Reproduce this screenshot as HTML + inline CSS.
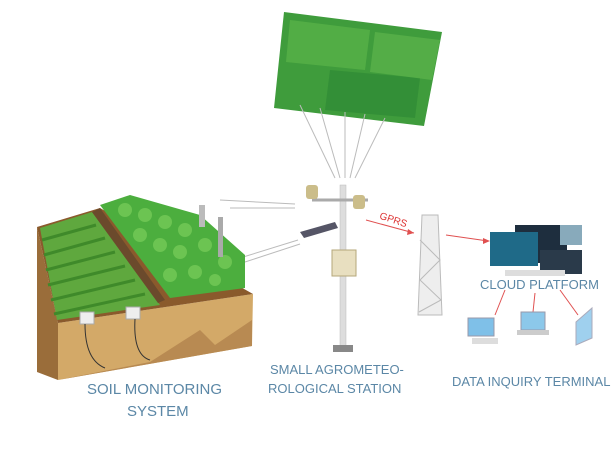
<!DOCTYPE html>
<html><head><style>
body{margin:0;width:614px;height:458px;background:#fff;overflow:hidden;font-family:"Liberation Sans",sans-serif}
.t{position:absolute;color:#5b87a6;font-size:14px;white-space:nowrap;letter-spacing:0}
</style></head><body>
<svg width="614" height="458" style="position:absolute;left:0;top:0">
<polygon points="284,12 442,32 424,126 274,108" fill="#3f9c3c"/>
<polygon points="290,20 370,30 365,70 286,62" fill="#5bb548" opacity=".7"/>
<polygon points="330,70 420,78 415,118 325,110" fill="#2f8a34" opacity=".7"/>
<polygon points="375,32 440,40 432,80 370,72" fill="#63b94e" opacity=".6"/>
<g stroke="#bbb" stroke-width="1">
<line x1="300" y1="105" x2="335" y2="178"/><line x1="320" y1="108" x2="340" y2="178"/>
<line x1="345" y1="112" x2="345" y2="178"/><line x1="365" y1="114" x2="350" y2="178"/>
<line x1="385" y1="118" x2="355" y2="178"/>
<line x1="220" y1="200" x2="295" y2="204"/><line x1="230" y1="208" x2="295" y2="208"/>
<line x1="240" y1="258" x2="298" y2="240"/><line x1="245" y1="262" x2="300" y2="244"/>
</g>
<polygon points="37,227 58,323 58,380 37,372" fill="#9a6d3a"/>
<polygon points="58,323 253,294 252,346 58,380" fill="#d3a968"/>
<path d="M150,362 L200,330 L215,345 L252,320 L252,346 L58,380 Z" fill="#b88a52"/>
<polygon points="37,227 100,208 253,294 58,323" fill="#8a5a2c"/>
<polygon points="40,228 92,212 160,305 57,320" fill="#5fa83e"/>
<g stroke="#3f8a2a" stroke-width="3">
<line x1="42" y1="240" x2="96" y2="225"/><line x1="44" y1="255" x2="105" y2="238"/>
<line x1="46" y1="270" x2="115" y2="252"/><line x1="48" y1="285" x2="125" y2="266"/>
<line x1="51" y1="300" x2="135" y2="280"/><line x1="54" y1="314" x2="145" y2="294"/>
</g>
<polygon points="92,212 100,208 165,300 158,303" fill="#6b4a2c"/>
<polygon points="100,205 130,195 200,215 245,255 245,288 170,298" fill="#4cae3e"/>
<g fill="#6cc452">
<circle cx="125" cy="210" r="7"/><circle cx="145" cy="215" r="7"/><circle cx="165" cy="222" r="7"/><circle cx="185" cy="230" r="7"/>
<circle cx="140" cy="235" r="7"/><circle cx="160" cy="245" r="7"/><circle cx="180" cy="252" r="7"/><circle cx="205" cy="245" r="7"/>
<circle cx="225" cy="262" r="7"/><circle cx="195" cy="272" r="7"/><circle cx="170" cy="275" r="7"/><circle cx="215" cy="280" r="6"/>
</g>
<rect x="80" y="312" width="14" height="12" fill="#eee" stroke="#aaa"/>
<rect x="126" y="307" width="14" height="12" fill="#eee" stroke="#aaa"/>
<path d="M85,324 Q85,360 105,368 M135,319 Q133,355 150,360" stroke="#333" fill="none"/>
<rect x="199" y="205" width="6" height="22" fill="#bbb"/><rect x="218" y="217" width="5" height="40" fill="#aaa"/>
<rect x="340" y="185" width="6" height="163" fill="#ddd" stroke="#bbb" stroke-width=".5"/>
<rect x="333" y="345" width="20" height="7" fill="#888"/>
<line x1="312" y1="200" x2="368" y2="200" stroke="#aaa" stroke-width="3"/>
<rect x="306" y="185" width="12" height="14" rx="3" fill="#cbbd8a"/><rect x="353" y="195" width="12" height="14" rx="3" fill="#cbbd8a"/>
<polygon points="300,232 335,222 338,228 304,238" fill="#556"/>
<rect x="332" y="250" width="24" height="26" fill="#e8dfc0" stroke="#b5a77a"/>
<line x1="366" y1="220" x2="414" y2="233" stroke="#e05050"/><polygon points="414,233 408,229 407,235" fill="#e05050"/>
<polygon points="422,215 438,215 442,315 418,315" fill="#eee" stroke="#bbb"/>
<path d="M420,240 L440,260 L420,280 L441,300 L419,312" stroke="#bbb" fill="none"/>
<line x1="446" y1="235" x2="488" y2="241" stroke="#e05050"/><polygon points="490,241 483,238 483,244" fill="#e05050"/>
<rect x="515" y="225" width="52" height="38" fill="#1e2e3e"/>
<rect x="490" y="232" width="48" height="34" fill="#1f6a88"/>
<rect x="560" y="225" width="22" height="20" fill="#8ab"/><rect x="540" y="250" width="42" height="24" fill="#2a3a4a"/>
<rect x="505" y="270" width="60" height="6" fill="#ddd"/>
<g stroke="#e05050"><line x1="505" y1="290" x2="495" y2="315"/><line x1="535" y1="293" x2="533" y2="312"/><line x1="560" y1="290" x2="578" y2="315"/></g>
<rect x="468" y="318" width="26" height="18" fill="#7fc0e8" stroke="#99a"/><rect x="472" y="338" width="26" height="6" fill="#ddd"/>
<rect x="521" y="312" width="24" height="18" fill="#8cc8ea" stroke="#99a"/><rect x="517" y="330" width="32" height="5" fill="#ccc"/>
<polygon points="576,322 592,308 592,338 576,345" fill="#9fd0ee" stroke="#aab"/>
</svg>
<div class="t" style="left:379px;top:215px;font-size:10px;color:#d33;transform:rotate(18deg)">GPRS</div>
<div class="t" style="left:87px;top:381px;font-size:15px">SOIL MONITORING</div>
<div class="t" style="left:127px;top:403px;font-size:15px">SYSTEM</div>
<div class="t" style="left:270px;top:362px;font-size:13px">SMALL AGROMETEO-</div>
<div class="t" style="left:268px;top:381px;font-size:13px">ROLOGICAL STATION</div>
<div class="t" style="left:480px;top:277px;font-size:13px">CLOUD PLATFORM</div>
<div class="t" style="left:452px;top:374px;font-size:13px">DATA INQUIRY TERMINAL</div>
</body></html>
